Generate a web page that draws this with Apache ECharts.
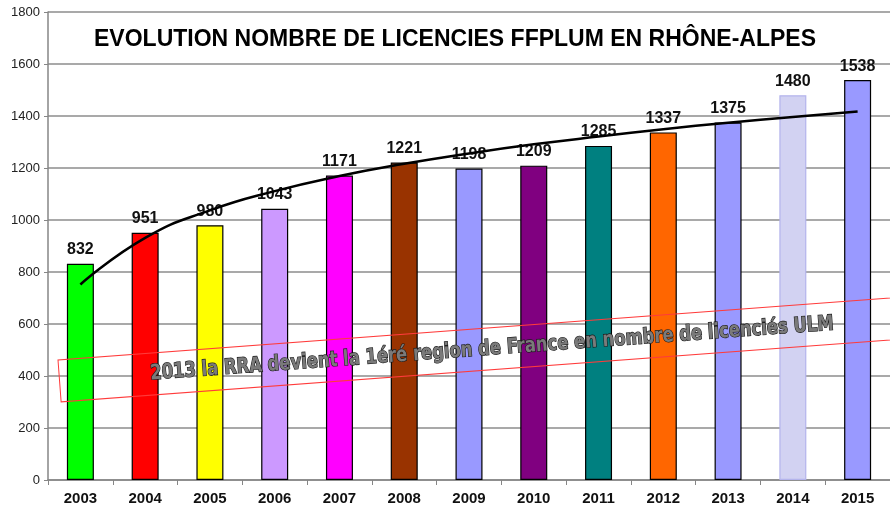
<!DOCTYPE html>
<html>
<head>
<meta charset="utf-8">
<script src="https://cdn.jsdelivr.net/npm/echarts@6/dist/echarts.min.js"></script>
<style>
  html, body { margin: 0; padding: 0; background: #fff; }
  #chart { width: 890px; height: 511px; }
</style>
</head>
<body>
<div id="chart"></div>
<script>
// donnees
var years = ['2003', '2004', '2005', '2006', '2007', '2008', '2009', '2010', '2011', '2012', '2013', '2014', '2015'];
var licences = [832, 951, 980, 1043, 1171, 1221, 1198, 1209, 1285, 1337, 1375, 1480, 1538];
var barColors = ['#00ff00', '#ff0000', '#ffff00', '#cc99ff', '#ff00ff', '#993300', '#9999ff',
  '#800080', '#008080', '#ff6600', '#9999ff', '#d2d2f2', '#9999ff'];
var barBorders = ['#000', '#000', '#000', '#000', '#000', '#000', '#000',
  '#000', '#000', '#000', '#000', '#b4b4ec', '#000'];
var yTicks = [0, 200, 400, 600, 800, 1000, 1200, 1400, 1600, 1800];

// courbe de tendance logarithmique (moindres carres sur les donnees)
var n = licences.length, sx = 0, sy = 0, sxx = 0, sxy = 0;
licences.forEach(function (v, i) {
  var lx = Math.log(i + 1);
  sx += lx; sy += v; sxx += lx * lx; sxy += lx * v;
});
var b = (n * sxy - sx * sy) / (n * sxx - sx * sx);
var a = (sy - b * sx) / n;
var trend = licences.map(function (v, i) {
  return Math.round(a + b * Math.log(i + 1));
});

var myChart = echarts.init(document.getElementById('chart'));

var option = {
  backgroundColor: '#fff',
  animation: false,
  title: {
    text: 'EVOLUTION NOMBRE DE LICENCIES FFPLUM EN RHÔNE-ALPES',
    left: 450,
    top: 23,
    textAlign: 'center',
    textStyle: {
      fontFamily: 'Liberation Sans, Arial, sans-serif',
      fontWeight: 'bold',
      fontSize: 23,
      color: '#000'
    }
  },
  grid: {
    left: 48,
    top: 12,
    width: 849,
    bottom: 31,
    containLabel: false
  },
  xAxis: {
    type: 'category',
    data: years,
    axisLine: { lineStyle: { color: '#868686', width: 1.5 } },
    axisTick: { show: true, length: 5, lineStyle: { color: '#868686' } },
    axisLabel: {
      margin: 11,
      fontFamily: 'Liberation Sans, Arial, sans-serif',
      fontWeight: 'bold',
      fontSize: 15,
      color: '#111'
    }
  },
  yAxis: {
    type: 'value',
    min: yTicks[0],
    max: yTicks[yTicks.length - 1],
    interval: 200,
    axisLine: { show: true, lineStyle: { color: '#868686', width: 1.5 } },
    axisTick: { show: true, length: 4, lineStyle: { color: '#868686' } },
    axisLabel: {
      margin: 8,
      fontFamily: 'Liberation Sans, Arial, sans-serif',
      fontSize: 13,
      color: '#222',
      formatter: function (v) { return String(v); }
    },
    splitLine: { lineStyle: { color: '#8c8c8c', width: 1.5 } }
  },
  series: [
    {
      name: 'Licences',
      type: 'bar',
      barWidth: 27,
      data: licences.map(function (v, i) {
        return {
          value: v,
          itemStyle: { color: barColors[i], borderColor: barBorders[i], borderWidth: 1.2 }
        };
      }),
      label: {
        show: true,
        position: 'top',
        distance: 6,
        fontFamily: 'Liberation Sans, Arial, sans-serif',
        fontWeight: 'bold',
        fontSize: 16,
        color: '#111'
      },
      z: 2
    },
    {
      name: 'Tendance',
      type: 'line',
      data: trend,
      smooth: true,
      symbol: 'none',
      lineStyle: { color: '#000', width: 2.5 },
      z: 5
    }
  ],
  graphic: [
    {
      type: 'rect',
      x: 58,
      y: 360,
      rotation: 0.0745,
      shape: { x: 0, y: 0, width: 900, height: 42 },
      style: { fill: 'none', stroke: '#ff3b3b', lineWidth: 1 },
      z: 10
    },
    {
      type: 'group',
      x: 492,
      y: 349,
      rotation: 0.073,
      children: [
        {
          type: 'text',
          x: 0,
          y: 0,
          scaleX: 0.87,
          z: 11,
          style: {
            text: '2013 la RRA devient la 1éré region de France en nombre de licenciés ULM',
            align: 'center',
            verticalAlign: 'middle',
            fontFamily: 'DejaVu Sans Condensed, Liberation Sans Narrow, sans-serif',
            fontWeight: 'bold',
            fontSize: 21,
            fill: '#7a7a7a',
            stroke: '#1a1a1a',
            lineWidth: 1.3,
            shadowColor: 'rgba(0,0,0,0.55)',
            shadowBlur: 3,
            shadowOffsetX: 2,
            shadowOffsetY: 2
          }
        }
      ]
    }
  ]
};

myChart.setOption(option);
</script>
</body>
</html>
